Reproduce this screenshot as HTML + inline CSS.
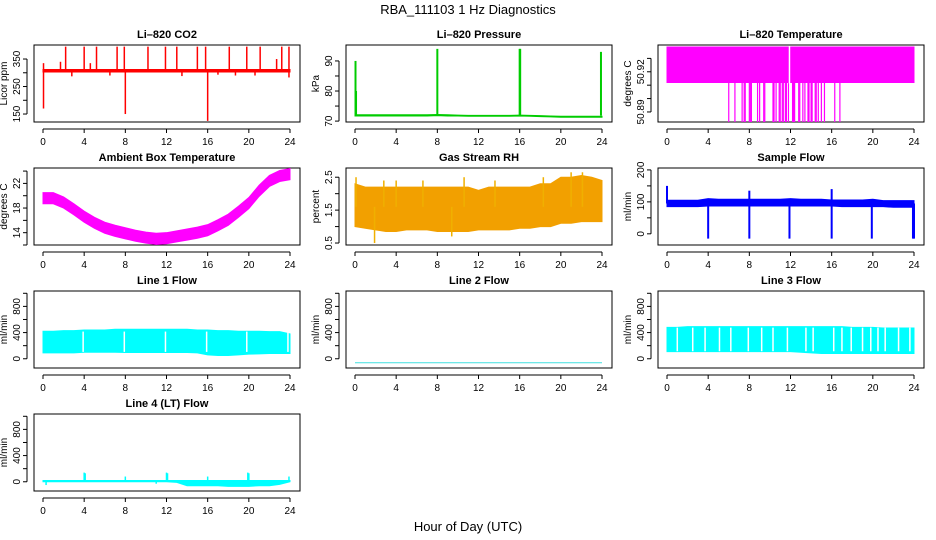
<!DOCTYPE html>
<html><head><meta charset="utf-8"><style>
html,body{margin:0;padding:0;background:#fff}
svg{display:block}
text{font-family:"Liberation Sans",sans-serif}
</style></head><body>
<svg id="chart" width="936" height="540" viewBox="0 0 936 540" xmlns="http://www.w3.org/2000/svg">
<text x="468" y="14" text-anchor="middle" font-size="13">RBA_111103  1 Hz Diagnostics</text>
<text x="468" y="531" text-anchor="middle" font-size="13">Hour of Day (UTC)</text>
</svg>
<script>
// ---- data arrays ----
const hourTicks = [0,4,8,12,16,20,24];
const hourly = [0,1,2,3,4,5,6,7,8,9,10,11,12,13,14,15,16,17,18,19,20,21,22,23,24];

const co2Low  = [303,303,303,303,303,303,303,303,303,303,303,303,303,303,303,303,303,303,303,303,303,303,303,303,303];
const co2High = [312,312,312,312,312,312,312,312,312,312,312,312,312,312,312,312,312,312,312,312,312,312,312,312,312];
const co2SpikeHours = [0.05,1.7,2.2,4.0,4.6,5.2,7.2,7.9,10.2,11.9,13.0,15.0,15.8,18.1,19.8,21.1,22.7,23.2,23.9,0.05,8.0,16.0,23.9,2.8,6.5,13.5,17.0,18.7,20.6];
const co2SpikeVals  = [335,340,395,395,335,395,395,395,395,395,395,395,395,395,395,395,350,395,395,170,150,125,283,287,290,288,293,290,290];

const presLow  = [71.7,71.7,71.7,71.7,71.7,71.7,71.7,71.7,71.8,71.7,71.7,71.6,71.6,71.6,71.6,71.6,71.7,71.6,71.5,71.4,71.3,71.3,71.3,71.3,71.3];
const presHigh = [72.1,72.1,72.1,72.1,72.1,72.1,72.1,72.1,72.2,72.1,72.0,71.9,71.9,71.9,71.9,71.9,72.0,71.9,71.8,71.7,71.6,71.6,71.6,71.6,71.6];
const presSpikeHours = [0.05,0.1,8.0,16.0,16.05,23.9];
const presSpikeVals  = [90,80,94,94,94,93];

const ltLow  = [50.912,50.912,50.912,50.912,50.912,50.912,50.912,50.912,50.912,50.912,50.912,50.912,50.912,50.912,50.912,50.912,50.912,50.912,50.912,50.912,50.912,50.912,50.912,50.912,50.912];
const ltHigh = [50.9385,50.9385,50.9385,50.9385,50.9385,50.9385,50.9385,50.9385,50.9385,50.9385,50.9385,50.9385,50.9385,50.9385,50.9385,50.9385,50.9385,50.9385,50.9385,50.9385,50.9385,50.9385,50.9385,50.9385,50.9385];
const ltSpikeHours = [6.0,6.6,7.3,7.5,7.6,8.0,8.1,8.2,8.8,9.0,9.4,9.5,10.3,10.4,10.6,10.9,11.0,11.2,11.3,11.5,11.6,11.8,12.2,12.3,12.4,12.8,12.9,13.2,13.4,13.7,13.8,14.0,14.1,14.4,14.5,14.7,15.0,15.3,16.3,16.8];
const ltSpikeVals  = [50.8825,50.8825,50.8825,50.8825,50.8825,50.8825,50.8825,50.8825,50.8825,50.8825,50.8825,50.8825,50.8825,50.8825,50.8825,50.8825,50.8825,50.8825,50.8825,50.8825,50.8825,50.8825,50.8825,50.8825,50.8825,50.8825,50.8825,50.8825,50.8825,50.8825,50.8825,50.8825,50.8825,50.8825,50.8825,50.8825,50.8825,50.8825,50.8825,50.8825];

const ambCenter = [19.6,19.6,18.9,17.8,16.6,15.6,14.8,14.3,13.9,13.5,13.2,13.0,13.1,13.4,13.7,14.0,14.4,15.2,16.1,17.4,18.8,20.8,22.4,23.2,23.5];
const ambHalfWidth = [0.9,0.9,0.9,0.9,0.9,0.9,0.9,0.9,0.9,0.9,0.9,0.9,0.9,0.9,0.9,0.9,0.9,0.9,0.9,0.9,0.9,0.9,0.9,0.9,0.9];

const rhLow  = [1.0,0.95,0.9,0.85,0.85,0.9,0.9,0.9,0.85,0.85,0.85,0.85,0.9,0.9,0.9,0.9,0.95,0.95,1.0,1.0,1.1,1.1,1.15,1.15,1.15];
const rhHigh = [2.3,2.2,2.2,2.2,2.2,2.2,2.2,2.2,2.2,2.2,2.2,2.2,2.1,2.2,2.2,2.2,2.2,2.2,2.3,2.3,2.5,2.5,2.55,2.5,2.4];
const rhSpikeHours = [0.1,1.9,2.8,4.0,6.6,9.4,10.6,13.6,18.3,21.0,22.1];
const rhSpikeVals  = [2.5,0.5,2.4,2.4,2.4,0.7,2.5,2.4,2.5,2.65,2.65];

const sfLow  = [85,85,85,85,87,87,87,87,87,87,87,87,87,87,87,87,87,85,85,85,85,85,83,83,83];
const sfHigh = [105,105,105,105,110,108,108,108,108,108,108,108,110,108,108,108,106,106,106,106,108,104,104,104,104];
const sfSpikeHours = [0.0,4.0,8.0,11.9,16.0,19.9,23.9,24.0,8.0,16.0];
const sfSpikeVals  = [150,-15,-15,-15,-15,-15,-15,-15,135,140];

const l1Low  = [90,90,90,90,100,100,100,100,95,95,95,95,95,95,95,90,60,50,50,60,70,75,80,80,80];
const l1High = [420,420,430,430,440,440,440,450,450,450,450,450,450,450,450,440,440,430,430,420,420,420,415,415,380];
const l1GapHours = [3.9,7.9,11.9,15.9,19.8,23.8];

const l2Level = [-60,-60,-60,-60,-60,-60,-60,-60,-60,-60,-60,-60,-60,-60,-60,-60,-60,-60,-60,-60,-60,-60,-60,-60,-60];

const l3Low  = [110,110,110,110,110,110,110,110,110,110,110,110,110,100,90,80,80,80,80,80,80,80,80,80,80];
const l3High = [480,480,490,490,490,490,490,490,490,490,490,490,490,490,490,490,490,490,480,480,480,470,470,470,470];
const l3GapHours = [1.0,2.5,3.7,5.1,6.2,7.9,9.2,10.3,11.7,13.5,14.2,16.2,17.0,17.9,19.0,19.8,20.5,21.2,22.5,23.6];

const l4Low  = [0,0,0,0,0,0,0,0,0,0,0,0,0,-10,-60,-60,-60,-60,-70,-70,-70,-60,-60,-40,0];
const l4High = [20,20,20,20,20,20,20,20,20,20,20,20,20,20,20,20,20,20,20,20,20,20,20,20,20];
const l4SpikeHours = [4.0,4.1,8.0,12.0,12.1,16.0,19.9,20.0,23.9,0.3,11.0];
const l4SpikeVals  = [140,130,80,140,130,80,140,130,80,-50,-30];

// ---- layout ----
const NS = "http://www.w3.org/2000/svg";
const svg = document.getElementById('chart');
const colX0 = [43,355,667];
const rowTop = [45,168,291,414];
const PW = 247, BH = 77;
function mk(tag, attrs, parent){const e=document.createElementNS(NS,tag);for(const k in attrs)e.setAttribute(k,attrs[k]);(parent||svg).appendChild(e);return e;}

function panel(slug, title, ylabel, col, row, ymin, ymax, ticks, labels, fmt){
  const g = mk('g',{});
  
  
  const x0 = colX0[col], top = rowTop[row], bot = top + BH;
  const left = x0 - 9, right = x0 + PW + 10;
  const xs = h => x0 + h / 24 * PW;
  const ys = v => bot - (v - ymin) / (ymax - ymin) * BH;
  const t = mk('text',{x:(left+right)/2,y:top-7,'text-anchor':'middle','font-size':11,'font-weight':'bold'},g);
  t.textContent = title;
  
  
  const box = mk('rect',{x:left,y:top,width:right-left,height:BH,fill:'none',stroke:'#000','stroke-width':1},g);
  
  
  const xa = mk('g',{},g);
  
  
  mk('line',{x1:xs(0),x2:xs(24),y1:bot+7,y2:bot+7,stroke:'#000'},xa);
  hourTicks.forEach(h=>{
    mk('line',{x1:xs(h),x2:xs(h),y1:bot+7,y2:bot+11,stroke:'#000'},xa);
    const tl = mk('text',{x:xs(h),y:bot+23,'text-anchor':'middle','font-size':10},xa);
    tl.textContent = h;
  });
  const ya = mk('g',{},g);
  
  
  mk('line',{x1:left-7,x2:left-7,y1:ys(ticks[0]),y2:ys(ticks[ticks.length-1]),stroke:'#000'},ya);
  ticks.forEach(v=>{
    mk('line',{x1:left-11,x2:left-7,y1:ys(v),y2:ys(v),stroke:'#000'},ya);
    if(labels.includes(v)){
      const tl = mk('text',{x:left-14,y:ys(v),'text-anchor':'middle','font-size':10,transform:`rotate(-90 ${left-14} ${ys(v)})`},ya);
      tl.textContent = fmt ? fmt(v) : v;
    }
  });
  const yl = mk('text',{x:left-27,y:(top+bot)/2,'text-anchor':'middle','font-size':10,transform:`rotate(-90 ${left-27} ${(top+bot)/2})`},g);
  yl.textContent = ylabel;
  
  
  return {g,xs,ys};
}

function band(p, lo, hi, color, slug){
  let d = 'M' + hourly.map((h,i)=>p.xs(h)+','+p.ys(hi[i])).join(' L');
  d += ' L' + hourly.slice().reverse().map((h,j)=>{const i=hourly.length-1-j;return p.xs(h)+','+p.ys(lo[i]);}).join(' L') + ' Z';
  const e = mk('path',{d:d,fill:color,stroke:color,'stroke-width':1},p.g);
  
  
}
function spikes(p, hrs, vals, base, color, slug, w){
  hrs.forEach((h,i)=>{
    const e = mk('line',{x1:p.xs(h),x2:p.xs(h),y1:p.ys(base),y2:p.ys(vals[i]),stroke:color,'stroke-width':w||1.5},p.g);
    
    
  });
}
function gaps(p, hrs, lo, hi, slug){
  hrs.forEach(h=>{
    const e = mk('line',{x1:p.xs(h),x2:p.xs(h),y1:p.ys(hi)-1,y2:p.ys(lo)+1,stroke:'#fff','stroke-width':1.5},p.g);
    
    
  });
}

let p = panel('co2','Li\u2013820 CO2','Licor ppm',0,0,121,401,[150,200,250,300,350],[150,250,350]);
band(p,co2Low,co2High,'#ff0000','co2');
spikes(p,co2SpikeHours,co2SpikeVals,308,'#ff0000','co2');

p = panel('pressure','Li\u2013820 Pressure','kPa',1,0,69.7,95.3,[70,75,80,85,90],[70,80,90]);
band(p,presLow,presHigh,'#00cc00','pressure');
spikes(p,presSpikeHours,presSpikeVals,71.8,'#00cc00','pressure',2);

p = panel('li820-temp','Li\u2013820 Temperature','degrees C',2,0,50.8825,50.94,[50.89,50.90,50.91,50.92,50.93],[50.89,50.92],v=>v.toFixed(2));
band(p,ltLow,ltHigh,'#ff00ff','li820-temp');
spikes(p,ltSpikeHours,ltSpikeVals,50.912,'#ff00ff','li820-temp',1.2);
gaps(p,[11.9],50.912,50.9385,'li820-temp');

p = panel('ambient-temp','Ambient Box Temperature','degrees C',0,1,12,24.5,[12,14,16,18,20,22,24],[14,18,22]);
band(p,ambCenter.map((c,i)=>c-ambHalfWidth[i]),ambCenter.map((c,i)=>c+ambHalfWidth[i]),'#ff00ff','ambient-temp');

p = panel('rh','Gas Stream RH','percent',1,1,0.44,2.78,[0.5,1,1.5,2,2.5],[0.5,1.5,2.5]);
band(p,rhLow,rhHigh,'#f2a000','rh');
spikes(p,rhSpikeHours,rhSpikeVals,1.6,'#f0b000','rh');

p = panel('sample-flow','Sample Flow','ml/min',2,1,-35,206,[0,50,100,150,200],[0,100,200]);
band(p,sfLow,sfHigh,'#0000ff','sample-flow');
spikes(p,sfSpikeHours,sfSpikeVals,95,'#0000ff','sample-flow',2);

p = panel('line1-flow','Line 1 Flow','ml/min',0,2,-141,1035,[0,200,400,600,800,1000],[0,400,800]);
band(p,l1Low,l1High,'#00ffff','line1-flow');
gaps(p,l1GapHours,120,400,'line1-flow');

p = panel('line2-flow','Line 2 Flow','ml/min',1,2,-141,1035,[0,200,400,600,800,1000],[0,400,800]);
{
  const d = 'M' + hourly.map((h,i)=>p.xs(h)+','+p.ys(l2Level[i])).join(' L');
  const e = mk('path',{d:d,fill:'none',stroke:'#40e0e0','stroke-width':1},p.g);
  
  
}

p = panel('line3-flow','Line 3 Flow','ml/min',2,2,-141,1035,[0,200,400,600,800,1000],[0,400,800]);
band(p,l3Low,l3High,'#00ffff','line3-flow');
gaps(p,l3GapHours,130,460,'line3-flow');

p = panel('line4-flow','Line 4 (LT) Flow','ml/min',0,3,-141,1035,[0,200,400,600,800,1000],[0,400,800]);
band(p,l4Low,l4High,'#00ffff','line4-flow');
spikes(p,l4SpikeHours,l4SpikeVals,10,'#00ffff','line4-flow',1.5);
</script>
</body></html>
